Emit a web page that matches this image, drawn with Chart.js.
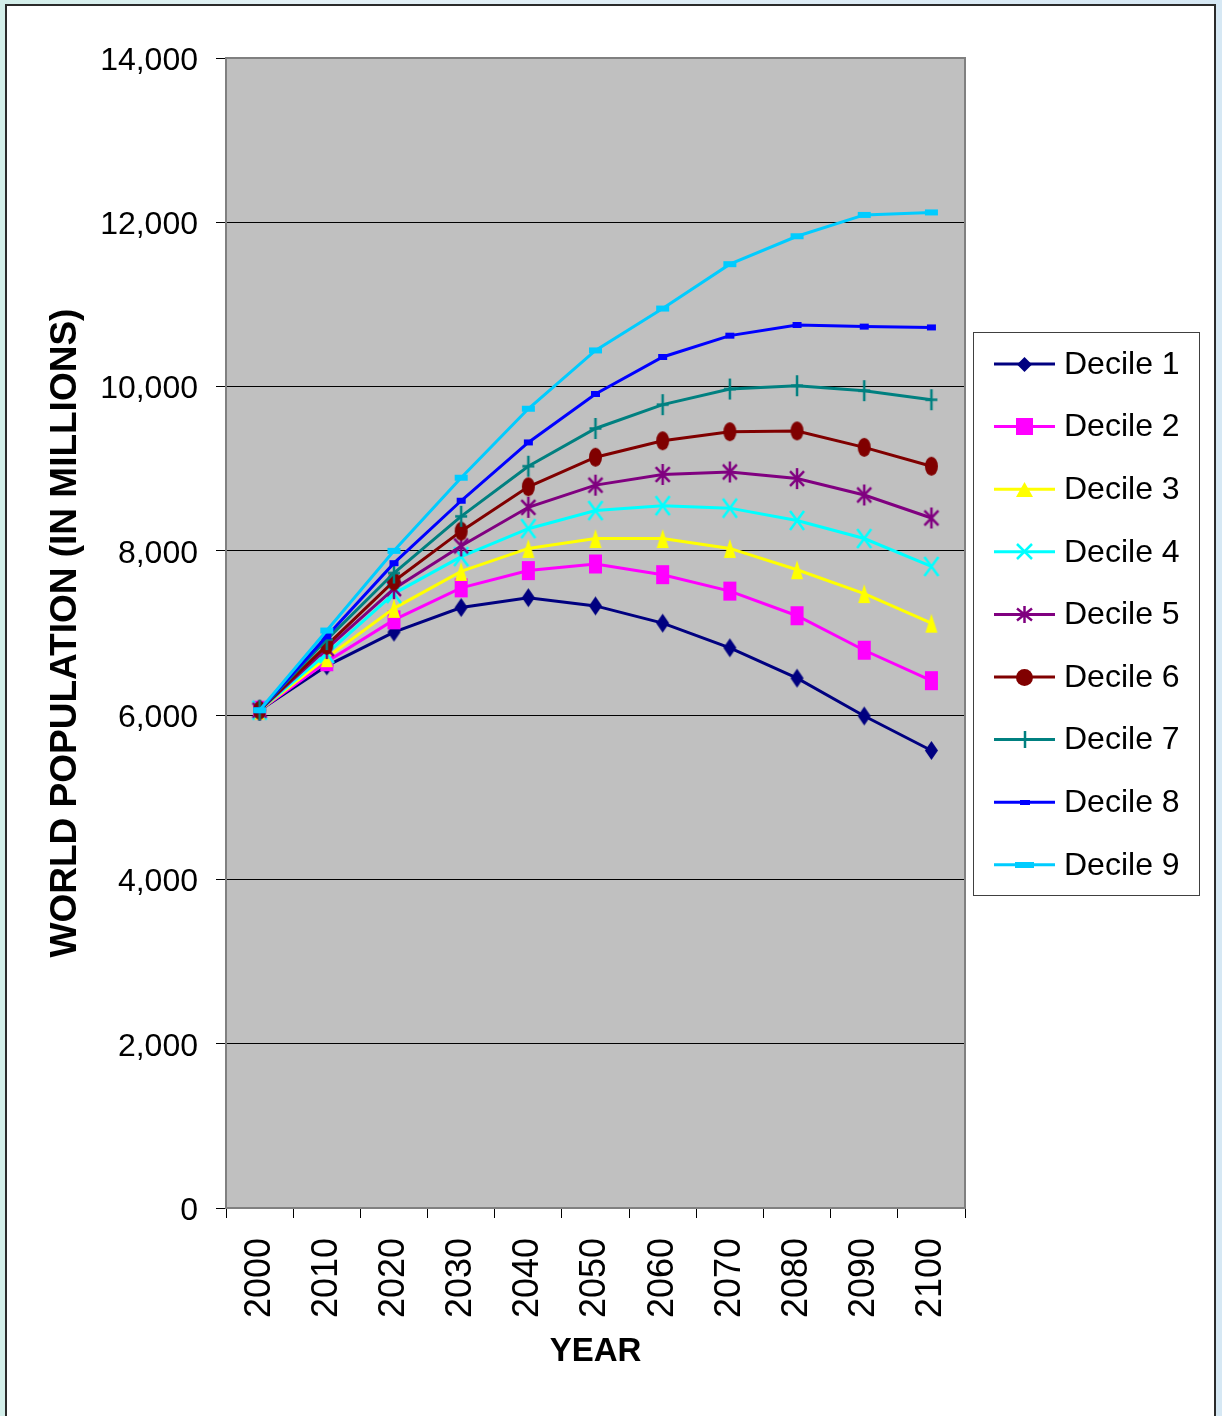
<!DOCTYPE html>
<html>
<head>
<meta charset="utf-8">
<title>World population projections by decile</title>
<script src="https://cdn.jsdelivr.net/npm/chart.js@4/dist/chart.umd.min.js"></script>
<style>
  html, body { margin: 0; padding: 0; }
  body {
    width: 1222px; height: 1416px; overflow: hidden; position: relative;
    background: linear-gradient(to right, #d3efea 0px, #e4f1f6 300px, #dcebf5 900px, #d6e8f4 1222px);
  }
  #frame {
    position: absolute; left: 5px; top: 4px; width: 1207px; height: 1440px;
    background: #ffffff; border: 2px solid #2b2b2b; border-bottom: none;
  }
  #chart { position: absolute; left: 0; top: 0; }
</style>
</head>
<body>
<div id="frame"></div>
<canvas id="chart" width="1222" height="1416"></canvas>
<script>
// Projection years (category axis)
const years = ['2000', '2010', '2020', '2030', '2040', '2050', '2060', '2070', '2080', '2090', '2100'];

// Y-axis tick range (millions)
const yTicks = { min: 0, max: 14000, step: 2000 };

// Series labels
const decileLabels = ['Decile 1', 'Decile 2', 'Decile 3', 'Decile 4', 'Decile 5',
                      'Decile 6', 'Decile 7', 'Decile 8', 'Decile 9'];

// World population in millions, one array per decile
const decile1 = [6060, 6600, 7010, 7310, 7430, 7330, 7120, 6820, 6450, 5990, 5570];
const decile2 = [6060, 6650, 7160, 7550, 7760, 7840, 7710, 7510, 7210, 6790, 6420];
const decile3 = [6060, 6700, 7300, 7750, 8030, 8150, 8150, 8030, 7770, 7480, 7120];
const decile4 = [6060, 6750, 7480, 7930, 8270, 8490, 8550, 8520, 8370, 8150, 7810];
const decile5 = [6060, 6810, 7540, 8060, 8530, 8800, 8930, 8960, 8880, 8680, 8400];
const decile6 = [6060, 6850, 7630, 8240, 8780, 9140, 9340, 9450, 9460, 9260, 9030];
const decile7 = [6060, 6920, 7730, 8420, 9030, 9490, 9780, 9970, 10010, 9950, 9840];
const decile8 = [6060, 6960, 7850, 8610, 9320, 9910, 10360, 10620, 10750, 10730, 10720];
const decile9 = [6060, 7030, 8000, 8890, 9730, 10440, 10950, 11490, 11830, 12090, 12120];

const seriesValues = [decile1, decile2, decile3, decile4, decile5, decile6, decile7, decile8, decile9];

// Styling per series: colour and marker shape
const seriesColors = ['#000080', '#ff00ff', '#ffff00', '#00ffff', '#800080',
                      '#800000', '#008080', '#0000ff', '#00ccff'];
const seriesShapes = ['diamond', 'square', 'triangle', 'x', 'star', 'circle', 'plus', 'bar', 'bar'];
const plotMarkerSize = [[13, 19], [13, 19], [12, 19], [14, 19], [14, 21], [13, 19], [12, 21], [9, 6], [13, 6]];
const legendMarkerSize = [[15, 15], [17, 17], [17, 15], [15, 15], [15, 17], [17, 17], [10, 17], [10, 5], [19, 6]];

// Build a small canvas holding a marker glyph of the given size
function makeMarker(shape, color, w, h) {
  const pad = 2;
  const c = document.createElement('canvas');
  c.width = w + pad * 2;
  c.height = h + pad * 2;
  const g = c.getContext('2d');
  g.translate(pad, pad);
  g.fillStyle = color;
  g.strokeStyle = color;
  g.lineWidth = 2.5;
  g.lineCap = 'butt';
  g.beginPath();
  switch (shape) {
    case 'diamond':
      g.moveTo(w / 2, 0); g.lineTo(w, h / 2); g.lineTo(w / 2, h); g.lineTo(0, h / 2); g.closePath(); g.fill();
      break;
    case 'square':
    case 'bar':
      g.fillRect(0, 0, w, h);
      break;
    case 'triangle':
      g.moveTo(w / 2, 0); g.lineTo(w, h); g.lineTo(0, h); g.closePath(); g.fill();
      break;
    case 'circle':
      g.ellipse(w / 2, h / 2, w / 2, h / 2, 0, 0, Math.PI * 2); g.fill();
      break;
    case 'x':
      g.moveTo(0, 0); g.lineTo(w, h); g.moveTo(w, 0); g.lineTo(0, h); g.stroke();
      break;
    case 'star':
      g.moveTo(0, h * 0.15); g.lineTo(w, h * 0.85); g.moveTo(w, h * 0.15); g.lineTo(0, h * 0.85);
      g.moveTo(w / 2, 0); g.lineTo(w / 2, h); g.stroke();
      break;
    case 'plus':
      g.moveTo(w / 2, 0); g.lineTo(w / 2, h); g.moveTo(0, h / 2); g.lineTo(w, h / 2); g.stroke();
      break;
  }
  return c;
}

const plotMarkers = seriesShapes.map((s, i) => makeMarker(s, seriesColors[i], plotMarkerSize[i][0], plotMarkerSize[i][1]));
const legendMarkers = seriesShapes.map((s, i) => makeMarker(s, seriesColors[i], legendMarkerSize[i][0], legendMarkerSize[i][1]));

const datasets = seriesValues.map((vals, i) => ({
  label: decileLabels[i],
  data: vals,
  borderColor: seriesColors[i],
  backgroundColor: seriesColors[i],
  borderWidth: 3,
  tension: 0,
  pointStyle: plotMarkers[i],
  pointRadius: 9,
  pointHoverRadius: 9,
  order: seriesValues.length - i,   // later deciles drawn on top
  legendMarker: legendMarkers[i]
}));

const FONT = "'Liberation Sans', Arial, Helvetica, sans-serif";

// Grey plot background and plot-area frame
const plotArea = {
  id: 'plotArea',
  beforeDraw(chart) {
    const a = chart.chartArea, ctx = chart.ctx;
    ctx.save();
    ctx.fillStyle = '#c0c0c0';
    ctx.fillRect(a.left, a.top, a.right - a.left, a.bottom - a.top);
    ctx.restore();
  },
  beforeDatasetsDraw(chart) {
    const a = chart.chartArea, ctx = chart.ctx;
    ctx.save();
    ctx.strokeStyle = '#808080';
    ctx.lineWidth = 2;
    ctx.strokeRect(a.left, a.top, a.right - a.left, a.bottom - a.top);
    ctx.restore();
  }
};

// Boxed legend with line-and-marker samples, right of the plot
const boxedLegend = {
  id: 'boxedLegend',
  afterDraw(chart) {
    const ctx = chart.ctx;
    const box = { x: 973.5, y: 332.5, w: 226, h: 563 };
    ctx.save();
    ctx.fillStyle = '#ffffff';
    ctx.fillRect(box.x, box.y, box.w, box.h);
    ctx.strokeStyle = '#404040';
    ctx.lineWidth = 1;
    ctx.strokeRect(box.x, box.y, box.w, box.h);
    const rowH = 62.6;
    chart.data.datasets.forEach((ds, i) => {
      const cy = 364 + i * rowH;
      ctx.strokeStyle = ds.borderColor;
      ctx.lineWidth = 3;
      ctx.beginPath();
      ctx.moveTo(994, cy);
      ctx.lineTo(1055, cy);
      ctx.stroke();
      const m = ds.legendMarker;
      ctx.drawImage(m, Math.round(1024.5 - m.width / 2), Math.round(cy - m.height / 2));
      ctx.fillStyle = '#000000';
      ctx.font = '32px ' + FONT;
      ctx.textBaseline = 'middle';
      ctx.textAlign = 'left';
      ctx.fillText(ds.label, 1064, cy + 1);
    });
    ctx.restore();
  }
};

new Chart(document.getElementById('chart'), {
  type: 'line',
  data: { labels: years, datasets: datasets },
  options: {
    responsive: false,
    animation: false,
    devicePixelRatio: 1,
    layout: { padding: { left: 44, top: 58, right: 257, bottom: 44 } },
    plugins: {
      legend: { display: false },
      tooltip: { enabled: false }
    },
    events: [],
    scales: {
      x: {
        type: 'category',
        offset: true,
        afterFit(scale) { scale.height = 164; },
        grid: {
          offset: true,
          drawOnChartArea: false,
          drawTicks: true,
          tickLength: 10,
          color: '#000000',
          lineWidth: 1
        },
        border: { display: true, color: '#808080', width: 2 },
        ticks: {
          autoSkip: false,
          minRotation: 90,
          maxRotation: 90,
          padding: 20,
          color: '#000000',
          font: { family: FONT, size: 36 }
        },
        title: {
          display: true,
          text: 'YEAR',
          color: '#000000',
          padding: { top: 0, bottom: 0 },
          font: { family: FONT, size: 33, weight: 'bold' }
        }
      },
      y: {
        min: yTicks.min,
        max: yTicks.max,
        afterFit(scale) { scale.width = 182; },
        grid: {
          color: '#000000',
          lineWidth: 1,
          drawTicks: true,
          tickLength: 10
        },
        border: { display: true, color: '#808080', width: 2 },
        ticks: {
          stepSize: yTicks.step,
          padding: 18,
          labelOffset: 3,
          color: '#000000',
          font: { family: FONT, size: 32 },
          callback: (v) => Number(v).toLocaleString('en-US')
        },
        title: {
          display: true,
          text: 'WORLD POPULATION (IN MILLIONS)',
          color: '#000000',
          padding: { top: 0, bottom: 0 },
          font: { family: FONT, size: 37, weight: 'bold' }
        }
      }
    }
  },
  plugins: [plotArea, boxedLegend]
});
</script>
</body>
</html>
